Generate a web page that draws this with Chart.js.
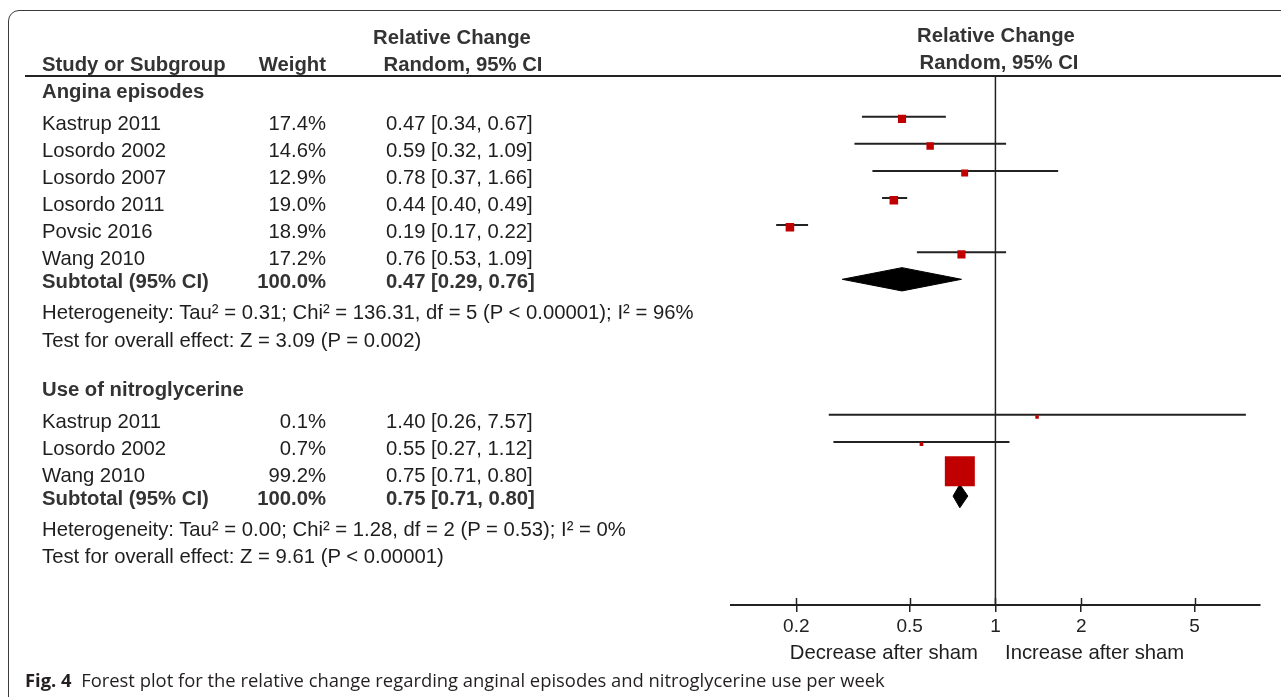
<!DOCTYPE html>
<html>
<head>
<meta charset="utf-8">
<script src="https://cdn.jsdelivr.net/npm/chart.js@4.4.0/dist/chart.umd.min.js"></script>
<style>
html, body { margin: 0; padding: 0; background: #fff; }
#wrap { position: relative; width: 1281px; height: 697px; overflow: hidden; }
#frame { position: absolute; left: 8px; top: 10px; width: 1320px; height: 700px; border: 1px solid #3a3a3a; border-radius: 11px; box-sizing: border-box; }
#rule { position: absolute; left: 25px; top: 75px; width: 1256px; height: 2px; background: #222; }
#chart { position: absolute; left: 0; top: 0; }
.t { position: absolute; font-family: "Liberation Sans", Arial, sans-serif; font-size: 20.3px; line-height: 24px; color: #1e1e1e; white-space: nowrap; }
.b { font-weight: bold; color: #333; }
#caption { position: absolute; left: 25px; top: 668px; font-family: "Open Sans", sans-serif; font-size: 18.4px; line-height: 24px; color: #231f20; white-space: nowrap; }
#caption b { font-weight: 700; }
</style>
</head>
<body>
<div id="wrap">
  <div id="frame"></div>
  <div id="rule"></div>
  <canvas id="chart" width="1281" height="697"></canvas>
  <div id="caption"><b>Fig. 4</b>&nbsp; Forest plot for the relative change regarding anginal episodes and nitroglycerine use per week</div>
</div>
<script>
// angina episodes
const anginaStudies = ['Kastrup 2011', 'Losordo 2002', 'Losordo 2007', 'Losordo 2011', 'Povsic 2016', 'Wang 2010'];
const anginaWeight = [17.4, 14.6, 12.9, 19.0, 18.9, 17.2];
const anginaEst = [0.47, 0.59, 0.78, 0.44, 0.19, 0.76];
const anginaLo = [0.34, 0.32, 0.37, 0.40, 0.17, 0.53];
const anginaHi = [0.67, 1.09, 1.66, 0.49, 0.22, 1.09];
const anginaTotal = [0.47, 0.29, 0.76];
const anginaHet = 'Heterogeneity: Tau² = 0.31; Chi² = 136.31, df = 5 (P < 0.00001); I² = 96%';
const anginaTest = 'Test for overall effect: Z = 3.09 (P = 0.002)';

// nitroglycerine use
const nitroStudies = ['Kastrup 2011', 'Losordo 2002', 'Wang 2010'];
const nitroWeight = [0.1, 0.7, 99.2];
const nitroEst = [1.40, 0.55, 0.75];
const nitroLo = [0.26, 0.27, 0.71];
const nitroHi = [7.57, 1.12, 0.80];
const nitroTotal = [0.75, 0.71, 0.80];
const nitroHet = 'Heterogeneity: Tau² = 0.00; Chi² = 1.28, df = 2 (P = 0.53); I² = 0%';
const nitroTest = 'Test for overall effect: Z = 9.61 (P < 0.00001)';

const xTicks = [0.2, 0.5, 1, 2, 5];
const X_MIN = 0.118, X_MAX = 8.47;

// layout
const FONT = '"Liberation Sans", Arial, sans-serif';
const ROW0 = 89.6, ROW_PX = 27.1;
const TOP = 76, AXIS_Y = 605;
const ROW_MIN = (TOP - ROW0) / ROW_PX, ROW_MAX = (AXIS_Y - ROW0) / ROW_PX;
const COL_STUDY = 42, COL_WEIGHT = 326, COL_CI = 386;

const wrap = document.getElementById('wrap');
function text(str, x, y, cls, align) {
    const d = document.createElement('div');
    d.className = 't' + (cls ? ' ' + cls : '');
    d.textContent = str;
    d.style.left = x + 'px';
    d.style.top = (y - 12) + 'px';
    if (align === 'right') d.style.transform = 'translateX(-100%)';
    if (align === 'center') d.style.transform = 'translateX(-50%)';
    wrap.appendChild(d);
}
const rowY = r => ROW0 + r * ROW_PX;
const ci = (e, l, h) => `${e.toFixed(2)} [${l.toFixed(2)}, ${h.toFixed(2)}]`;

// headers
text('Relative Change', 452, 37, 'b', 'center');
text('Study or Subgroup', COL_STUDY, 64, 'b');
text('Weight', COL_WEIGHT, 64, 'b', 'right');
text('Random, 95% CI', 463, 64, 'b', 'center');
text('Relative Change', 996, 35, 'b', 'center');
text('Random, 95% CI', 999, 62, 'b', 'center');
text('Decrease after sham', 978, 652, '', 'right');
text('Increase after sham', 1005, 652, '');

const groups = [
    { name: 'Angina episodes', studies: anginaStudies, weight: anginaWeight, est: anginaEst, lo: anginaLo, hi: anginaHi, total: anginaTotal, het: anginaHet, test: anginaTest, start: 0 },
    { name: 'Use of nitroglycerine', studies: nitroStudies, weight: nitroWeight, est: nitroEst, lo: nitroLo, hi: nitroHi, total: nitroTotal, het: nitroHet, test: nitroTest, start: 11 }
];

const datasets = [];
datasets.push({
    data: [{ x: 1, y: ROW_MIN }, { x: 1, y: ROW_MAX }],
    showLine: true, borderColor: '#222', borderWidth: 1.5, pointRadius: 0, order: 4
});

groups.forEach(g => {
    const r0 = g.start;
    text(g.name, COL_STUDY, rowY(r0) + 1.5, 'b');
    g.studies.forEach((s, i) => {
        const r = r0 + 1 + i;
        text(s, COL_STUDY, rowY(r) + 6);
        text(g.weight[i].toFixed(1) + '%', COL_WEIGHT, rowY(r) + 6, '', 'right');
        text(ci(g.est[i], g.lo[i], g.hi[i]), COL_CI, rowY(r) + 6);
        datasets.push({
            data: [{ x: g.lo[i], y: r }, { x: g.hi[i], y: r }],
            showLine: true, borderColor: '#222', borderWidth: 2, pointRadius: 0, order: 3
        });
    });
    // weight boxes, drawn on top of the whiskers
    datasets.push({
        data: g.est.map((e, i) => ({ x: e, y: r0 + 1 + i + 0.08 })),
        pointStyle: 'rect',
        pointRadius: g.weight.map(w => (3.5 + 0.267 * w) / Math.SQRT2),
        pointBackgroundColor: '#c00000', pointBorderWidth: 0, order: 1
    });
    const rs = r0 + g.studies.length + 1;
    text('Subtotal (95% CI)', COL_STUDY, rowY(rs) + 2, 'b');
    text('100.0%', COL_WEIGHT, rowY(rs) + 2, 'b', 'right');
    text(ci(g.total[0], g.total[1], g.total[2]), COL_CI, rowY(rs) + 2, 'b');
    const h = 0.43;
    datasets.push({
        data: [
            { x: g.total[1], y: rs }, { x: g.total[0], y: rs - h },
            { x: g.total[2], y: rs }, { x: g.total[0], y: rs + h },
            { x: g.total[1], y: rs }
        ],
        showLine: true, fill: 'shape', tension: 0,
        borderColor: '#000', backgroundColor: '#000', borderWidth: 1, pointRadius: 0, order: 2
    });
    text(g.het, COL_STUDY, rowY(rs + 1) + 6);
    text(g.test, COL_STUDY, rowY(rs + 2) + 6);
});

// tick marks that cross the axis line upward
const innerTicks = {
    id: 'innerTicks',
    afterDraw(chart) {
        const x = chart.scales.x, ctx = chart.ctx, b = chart.chartArea.bottom;
        ctx.save();
        ctx.strokeStyle = '#222';
        ctx.lineWidth = 1.5;
        xTicks.forEach(v => {
            const px = Math.round(x.getPixelForValue(v)) + 0.5;
            ctx.beginPath();
            ctx.moveTo(px, b - 7);
            ctx.lineTo(px, b);
            ctx.stroke();
        });
        ctx.restore();
    }
};

new Chart(document.getElementById('chart'), {
    type: 'scatter',
    data: { datasets },
    plugins: [innerTicks],
    options: {
        responsive: false,
        animation: false,
        layout: { padding: { left: 731, right: 21, top: TOP, bottom: 0 } },
        plugins: { legend: { display: false }, tooltip: { enabled: false } },
        scales: {
            x: {
                type: 'logarithmic',
                min: X_MIN,
                max: X_MAX,
                position: 'bottom',
                afterBuildTicks: s => { s.ticks = xTicks.map(v => ({ value: v })); },
                afterFit: s => { s.height = 697 - AXIS_Y; },
                ticks: {
                    callback: v => String(v),
                    autoSkip: false, maxRotation: 0,
                    color: '#222', font: { family: FONT, size: 19 }, padding: 3
                },
                grid: { drawOnChartArea: false, drawTicks: true, tickLength: 7, color: '#222', lineWidth: 1.5 },
                border: { display: true, color: '#222', width: 2 }
            },
            y: { type: 'linear', reverse: true, min: ROW_MIN, max: ROW_MAX, display: false }
        }
    }
});
</script>
</body>
</html>
